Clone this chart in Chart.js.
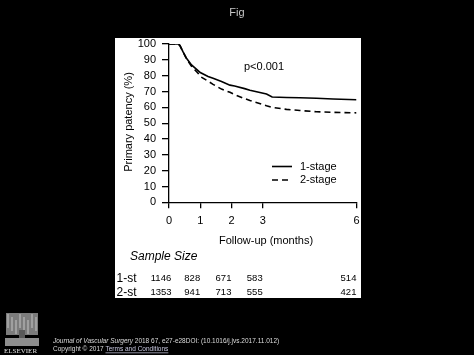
<!DOCTYPE html>
<html>
<head>
<meta charset="utf-8">
<script src="https://cdn.jsdelivr.net/npm/chart.js@4.4.1/dist/chart.umd.min.js"></script>
<style>
html,body{margin:0;padding:0;background:#000;overflow:hidden;}
#c{display:block;}
</style>
</head>
<body>
<canvas id="c" width="474" height="355"></canvas>
<script>
// ---- data ----
const months   = [0, 0.3, 0.35, 0.45, 0.56, 0.72, 0.93, 1.0, 1.25, 1.41, 1.68, 1.95, 2.1, 2.42, 2.59, 3.12, 3.3, 3.76, 4.19, 4.72, 5.25, 6.0];
const oneStage = [100, 100, 99, 95, 91, 86.8, 83.2, 82, 79.5, 78.3, 76.3, 74, 73.5, 71.8, 70.8, 68.4, 66.5, 66.2, 66, 65.7, 65.3, 64.8];
const twoStage = [100, 100, 99, 95, 90.5, 86, 81.5, 79.5, 76.5, 74.5, 71.5, 69.5, 68, 65.5, 64.3, 61, 60, 58.7, 58, 57.2, 56.8, 56.5];
const seriesNames = ['1-stage', '2-stage'];
const xTicks = [0, 1, 2, 3, 6];
const sampleMonths = [0, 1, 2, 3, 6];
const sampleOne = [1146, 828, 671, 583, 514];
const sampleTwo = [1353, 941, 713, 555, 421];
const rowLabels = ['1-st', '2-st'];
const pValueText = 'p<0.001';
const xTitle = 'Follow-up (months)';
const yTitle = 'Primary patency (%)';
const sampleTitle = 'Sample Size';
const figTitle = 'Fig';
const journalName = 'Journal of Vascular Surgery';
const journalRest = ' 2018 67, e27-e28DOI: (10.1016/j.jvs.2017.11.012)';
const copyText = 'Copyright \u00A9 2017 ';
const termsText = 'Terms and Conditions';

const toPts = (xs, ys) => xs.map((x, i) => ({x: x, y: ys[i]}));
const F = 'Liberation Sans, Arial, sans-serif';

const decor = {
  id: 'decor',
  beforeDraw(chart) {
    const ctx = chart.ctx;
    ctx.save();
    ctx.fillStyle = '#000';
    ctx.fillRect(0, 0, chart.width, chart.height);
    ctx.fillStyle = '#fff';
    ctx.fillRect(115, 38, 246, 260);
    ctx.restore();
  },
  afterDraw(chart) {
    const ctx = chart.ctx;
    const xs = chart.scales.x;
    ctx.save();
    // Fig title
    ctx.fillStyle = '#c8c8c8';
    ctx.font = '11px ' + F;
    ctx.textAlign = 'center';
    ctx.textBaseline = 'middle';
    ctx.fillText(figTitle, 237, 13);

    // p-value
    ctx.fillStyle = '#000';
    ctx.font = '11px ' + F;
    ctx.fillText(pValueText, 264, 67);

    // axis titles
    ctx.fillText(xTitle, 266, 241);
    ctx.save();
    ctx.translate(129, 122);
    ctx.rotate(-Math.PI / 2);
    ctx.fillText(yTitle, 0, 0);
    ctx.restore();

    // legend
    const legY = [166.5, 180];
    chart.data.datasets.forEach((ds, i) => {
      ctx.save();
      ctx.strokeStyle = '#000';
      ctx.lineWidth = 1.6;
      ctx.setLineDash(ds.borderDash || []);
      ctx.beginPath();
      ctx.moveTo(272, legY[i]);
      ctx.lineTo(292, legY[i]);
      ctx.stroke();
      ctx.restore();
      ctx.textAlign = 'left';
      ctx.fillText(ds.label, 300, legY[i]);
    });

    // sample size table
    ctx.font = 'italic 12px ' + F;
    ctx.textAlign = 'left';
    ctx.fillText(sampleTitle, 130, 257);
    ctx.font = '12px ' + F;
    ctx.fillText(rowLabels[0], 116.5, 278.5);
    ctx.fillText(rowLabels[1], 116.5, 292.5);
    ctx.font = '9.5px ' + F;
    ctx.textAlign = 'center';
    sampleMonths.forEach((m, i) => {
      const px = xs.getPixelForValue(m) - 8;
      ctx.fillText(String(sampleOne[i]), px, 278.5);
      ctx.fillText(String(sampleTwo[i]), px, 292.5);
    });

    // footer: logo (stylised tree)
    ctx.fillStyle = '#7c7c7c';
    ctx.fillRect(6, 313, 32, 22);
    ctx.fillStyle = '#a0a0a0';
    for (let k = 0; k < 8; k++) {
      ctx.fillRect(7 + k * 4, 314 + (k % 3) * 3, 2, 14);
    }
    ctx.fillStyle = '#5a5a5a';
    ctx.fillRect(19, 330, 6, 14);
    ctx.fillStyle = '#8e8e8e';
    ctx.fillRect(5, 338, 34, 8);
    ctx.fillStyle = '#e0e0e0';
    ctx.font = '7px Liberation Serif, serif';
    ctx.textAlign = 'left';
    ctx.fillText('ELSEVIER', 4, 351);

    // footer text
    ctx.fillStyle = '#dcdcdc';
    ctx.font = 'italic 6.5px ' + F;
    ctx.fillText(journalName, 53, 341);
    let w = ctx.measureText(journalName).width;
    ctx.font = '6.5px ' + F;
    ctx.fillText(journalRest, 53 + w, 341);
    ctx.fillText(copyText, 53, 349.5);
    w = ctx.measureText(copyText).width;
    ctx.fillStyle = '#c8c8e0';
    ctx.fillText(termsText, 53 + w, 349.5);
    const tw = ctx.measureText(termsText).width;
    ctx.fillRect(53 + w, 352.5, tw, 0.7);
    ctx.restore();
  }
};

new Chart(document.getElementById('c'), {
  type: 'line',
  data: {
    datasets: [
      {label: seriesNames[0], data: toPts(months, oneStage), borderColor: '#000', borderWidth: 1.6, pointRadius: 0, tension: 0, fill: false},
      {label: seriesNames[1], data: toPts(months, twoStage), borderColor: '#000', borderWidth: 1.6, borderDash: [6, 4], pointRadius: 0, tension: 0, fill: false}
    ]
  },
  options: {
    responsive: false,
    animation: false,
    devicePixelRatio: 1,
    layout: {padding: {left: 0, top: 44, right: 117.5, bottom: 122.7}},
    plugins: {legend: {display: false}, tooltip: {enabled: false}},
    scales: {
      x: {
        type: 'linear', min: 0, max: 6,
        afterBuildTicks: s => { s.ticks = xTicks.map(v => ({value: v})); },
        afterFit: s => { s.height = 30; },
        grid: {drawOnChartArea: false, tickLength: 6, color: '#000', lineWidth: 1.3},
        border: {display: true, color: '#000', width: 1.3},
        ticks: {color: '#000', font: {family: F, size: 11}, padding: 6, maxRotation: 0, autoSkip: false}
      },
      y: {
        min: 0, max: 100,
        afterFit: s => { s.width = 169; },
        grid: {drawOnChartArea: false, tickLength: 7, color: '#000', lineWidth: 1.3},
        border: {display: true, color: '#000', width: 1.3},
        ticks: {stepSize: 10, autoSkip: false, color: '#000', font: {family: F, size: 11}, padding: 6}
      }
    }
  },
  plugins: [decor]
});
</script>
</body>
</html>
